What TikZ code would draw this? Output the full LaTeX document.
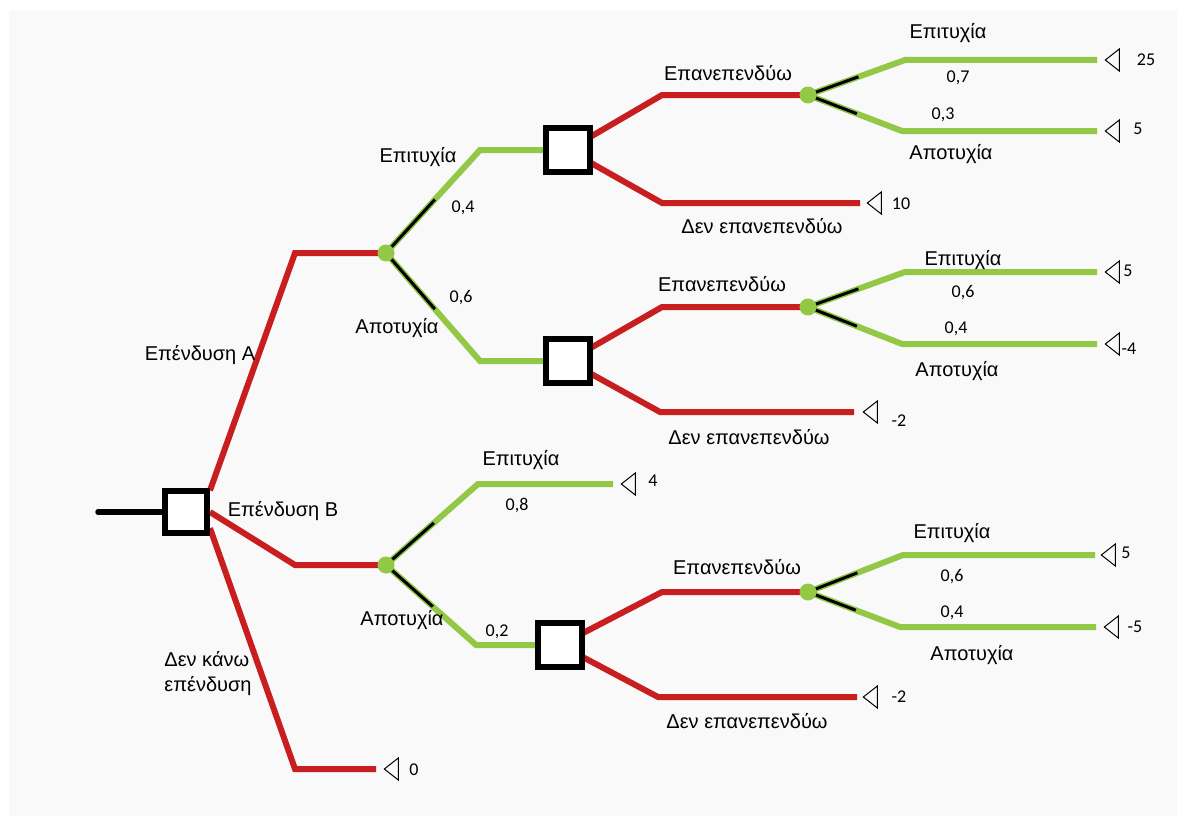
\documentclass[tikz,border=0pt]{standalone}
\usepackage{fontspec}
\setmainfont{Liberation Sans}
\newfontfamily\numfont{Carlito}
\usetikzlibrary{positioning,calc,shapes.geometric}
\pgfdeclarelayer{back}
\pgfsetlayers{back,main}
\definecolor{actred}{RGB}{200,30,32}
\definecolor{leafgreen}{RGB}{146,200,70}
\definecolor{paper}{RGB}{249,249,249}

\tikzset{
  decision/.style={draw, line width=6pt, fill=white, minimum size=44pt, inner sep=0pt},
  chance/.style={circle, fill=leafgreen, minimum size=17pt, inner sep=0pt},
  payoff/.style={isosceles triangle, shape border rotate=180, draw, line width=1pt,
    isosceles triangle stretches, minimum height=14pt, minimum width=22pt, inner sep=0pt, anchor=apex},
  act/.style={actred, line width=6pt},
  event/.style={leafgreen, line width=6pt},
  prob/.style={black, line width=3pt},
  lbl/.style={font=\fontsize{20}{25}\selectfont, inner sep=0pt},
  val/.style={font=\numfont\fontsize{18}{22}\selectfont, inner sep=0pt}
}

\begin{document}
\begin{tikzpicture}[x=1pt,y=-1pt]
      \begin{pgfonlayer}{back}
        \fill[white] (0,0) rectangle (1177,816);
        \fill[paper] (9,10) rectangle (1177,816);
      \end{pgfonlayer}
      \useasboundingbox (0,0) rectangle (1177,816);

      \coordinate (root) at (98,512);
      \node[decision, minimum size=42pt] (d0) at (186,512) {};
      \coordinate (bA) at (295,253);
      \coordinate (bB) at (295,565);
      \coordinate (bN) at (295,769);
      \node[chance] (cA) at (386,253) {};
      \node[chance] (cB) at (386,565) {};
      \node[payoff] (t0) at (383,769) {};
      \node[val] (v0) at (414,770) {0};

      \coordinate (kA1) at (480,150);
      \coordinate (kA2) at (480,361);
      \node[decision] (d1) at (568,150) {};
      \node[decision] (d2) at (568,361) {};
      \coordinate (kB1) at (478,484);
      \coordinate (kB2) at (476,645);
      \node[payoff] (t3) at (620,484) {};
      \node[val] (v3) at (653,481) {4};
      \node[decision] (d3) at (560,645) {};

      \coordinate (r11) at (662,95);
      \coordinate (r12) at (662,203);
      \node[chance] (c1) at (808,95) {};
      \node[payoff] (t12) at (866,203) {};
      \node[val] (v12) at (901,204) {10};
      \coordinate (g11) at (905,60);
      \coordinate (g12) at (902,131);
      \node[payoff] (t111) at (1104,60) {};
      \node[payoff] (t112) at (1104,131) {};
      \node[val] (v111) at (1146,60) {25};
      \node[val] (v112) at (1138,129) {5};

      \coordinate (r21) at (662,307);
      \coordinate (r22) at (660,412);
      \node[chance] (c2) at (808,307) {};
      \node[payoff] (t22) at (862,412) {};
      \node[val] (v22) at (899,421) {-2};
      \coordinate (g21) at (905,272);
      \coordinate (g22) at (902,344);
      \node[payoff] (t211) at (1104,272) {};
      \node[payoff] (t212) at (1104,344) {};
      \node[val] (v211) at (1128,271) {5};
      \node[val] (v212) at (1129,349) {-4};

      \coordinate (r31) at (662,592);
      \coordinate (r32) at (658,697);
      \node[chance] (c3) at (808,592) {};
      \node[payoff] (t32) at (862,697) {};
      \node[val] (v32) at (899,697) {-2};
      \coordinate (g31) at (903,555);
      \coordinate (g32) at (900,627);
      \node[payoff] (t311) at (1100,555) {};
      \node[payoff] (t312) at (1103,627) {};
      \node[val] (v311) at (1126,553) {5};
      \node[val] (v312) at (1135,627) {-5};

      \begin{pgfonlayer}{back}
        \draw[line width=5.5pt, line cap=round] (root) -- (d0.west);
        \draw[act] (d0.42) -- (bA) -- (cA.center);
        \draw[act] (d0.east) -- (bB) -- (cB.center);
        \draw[act, shorten >=7pt] (d0.-34) -- (bN) -- (t0.apex);

        \draw[event] (cA.center) -- (kA1) -- (d1.west);
        \draw[event] (cA.center) -- (kA2) -- (d2.west);
        \draw[event, shorten >=7pt] (cB.center) -- (kB1) -- (t3.apex);
        \draw[event] (cB.center) -- (kB2) -- (d3.west);

        \draw[act] (d1.center) -- (r11) -- (c1.center);
        \draw[act, shorten >=6pt] (d1.center) -- (r12) -- (t12.apex);
        \draw[act] (d2.center) -- (r21) -- (c2.center);
        \draw[act, shorten >=8pt] (d2.center) -- (r22) -- (t22.apex);
        \draw[act] (d3.center) -- (r31) -- (c3.center);
        \draw[act, shorten >=5pt] (d3.center) -- (r32) -- (t32.apex);

        \draw[event, shorten >=7pt] (c1.center) -- (g11) -- (t111.apex);
        \draw[event, shorten >=7pt] (c1.center) -- (g12) -- (t112.apex);
        \draw[event, shorten >=7pt] (c2.center) -- (g21) -- (t211.apex);
        \draw[event, shorten >=7pt] (c2.center) -- (g22) -- (t212.apex);
        \draw[event, shorten >=5pt] (c3.center) -- (g31) -- (t311.apex);
        \draw[event, shorten >=7pt] (c3.center) -- (g32) -- (t312.apex);

        \draw[prob] (cA.center) -- ($(cA)!0.52!(kA1)$);
        \draw[prob] (cA.center) -- ($(cA)!0.52!(kA2)$);
        \draw[prob] (cB.center) -- ($(cB)!0.52!(kB1)$);
        \draw[prob] (cB.center) -- ($(cB)!0.52!(kB2)$);
        \draw[prob] (c1.center) -- ($(c1)!0.52!(g11)$);
        \draw[prob] (c1.center) -- ($(c1)!0.52!(g12)$);
        \draw[prob] (c2.center) -- ($(c2)!0.52!(g21)$);
        \draw[prob] (c2.center) -- ($(c2)!0.52!(g22)$);
        \draw[prob] (c3.center) -- ($(c3)!0.52!(g31)$);
        \draw[prob] (c3.center) -- ($(c3)!0.52!(g32)$);
      \end{pgfonlayer}

      \node[lbl] (lA) at (200,355) {Επένδυση Α};
      \node[lbl] (lB) at (283,511) {Επένδυση Β};
      \node[lbl, align=left] (lN) at (208,674) {Δεν κάνω\\επένδυση};

      \node[lbl] (sA) at (418,157) {Επιτυχία};
      \node[val] (pA1) at (463,208) {0,4};
      \node[val] (pA2) at (461,298) {0,6};
      \node[lbl] (fA) at (397,328) {Αποτυχία};
      \node[lbl] (sB) at (521,460) {Επιτυχία};
      \node[val] (pB1) at (517,505) {0,8};
      \node[lbl] (fB) at (402,620) {Αποτυχία};
      \node[val] (pB2) at (497,632) {0,2};

      \node[lbl] (re1) at (728,73) {Επανεπενδύω};
      \node[lbl] (no1) at (762,226) {Δεν επανεπενδύω};
      \node[lbl] (re2) at (722,284) {Επανεπενδύω};
      \node[lbl] (no2) at (749,437) {Δεν επανεπενδύω};
      \node[lbl] (re3) at (737,567) {Επανεπενδύω};
      \node[lbl] (no3) at (747,721) {Δεν επανεπενδύω};

      \node[lbl] (s1) at (948,33) {Επιτυχία};
      \node[val] (p11) at (958,78) {0,7};
      \node[val] (p12) at (943,115) {0,3};
      \node[lbl] (f1) at (951,154) {Αποτυχία};
      \node[lbl] (s2) at (963,260) {Επιτυχία};
      \node[val] (p21) at (963,293) {0,6};
      \node[val] (p22) at (956,329) {0,4};
      \node[lbl] (f2) at (957,371) {Αποτυχία};
      \node[lbl] (s3) at (952,533) {Επιτυχία};
      \node[val] (p31) at (952,577) {0,6};
      \node[val] (p32) at (952,613) {0,4};
      \node[lbl] (f3) at (972,655) {Αποτυχία};
    \end{tikzpicture}
\end{document}
